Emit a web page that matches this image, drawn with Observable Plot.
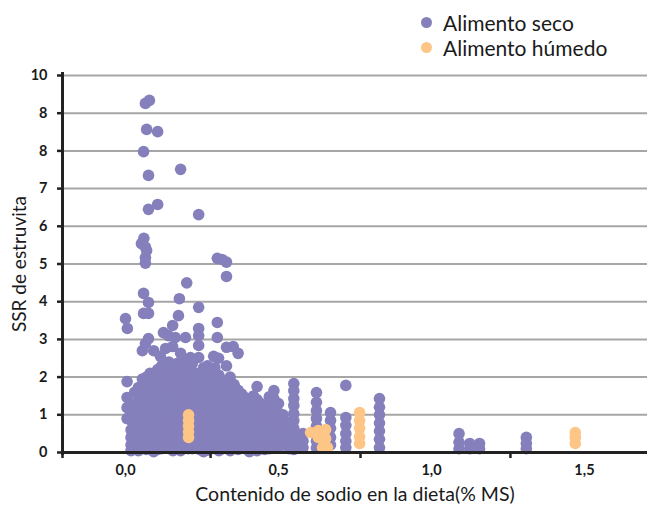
<!DOCTYPE html>
<html>
<head>
<meta charset="utf-8">
<script src="https://cdn.jsdelivr.net/npm/d3@7"></script>
<script src="https://cdn.jsdelivr.net/npm/@observablehq/plot@0.6"></script>
<style>
  html, body { margin: 0; padding: 0; background: #fff; }
  #wrap { position: relative; width: 647px; height: 505px; font-family: Lato, "Open Sans", sans-serif; }
  #legend { position: absolute; left: 421px; top: 10px; font-size: 21px; color: #1a1a1a; line-height: 25px; z-index: 2; }
  #legend .item { display: flex; align-items: center; }
  #legend .sw { width: 11px; height: 11px; border-radius: 50%; margin-right: 11px; flex: none; }
</style>
</head>
<body>
<div id="wrap">
  <div id="legend"></div>
</div>
<script>
// ---- data ----
const series = ["Alimento seco", "Alimento húmedo"];
const colors = ["#8580bb", "#fdc586"];

const yTicks = [0, 1, 2, 3, 4, 5, 6, 7, 8, 9, 10];
const yTickLabels = ["0", "1", "2", "3", "4", "5", "6", "7", "8", "8", "10"];
const xLabelTicks = [0, 0.5, 1.0, 1.5];
const xTickMarks = [-0.206, 0.278, 0.768, 1.258];

const xTitle = "Contenido de sodio en la dieta(% MS)";
const yTitle = "SSR de estruvita";

// Alimento seco: [sodio % MS, SSR]
const alimentoSeco = [
  [0.065, 9.26], [0.078, 9.34], [0.069, 8.57], [0.105, 8.51], [0.059, 7.98], [0.18, 7.51], [0.075, 7.35],
  [0.105, 6.58], [0.075, 6.45], [0.239, 6.31],
  [0.06, 5.68], [0.052, 5.54], [0.065, 5.45], [0.069, 5.36], [0.065, 5.17], [0.065, 5.02],
  [0.30, 5.15], [0.315, 5.12], [0.33, 5.05], [0.33, 4.67],
  [0.20, 4.5], [0.059, 4.22], [0.075, 3.98], [0.176, 4.08], [0.059, 3.69], [0.075, 3.69], [0.239, 3.85],
  [0.0, 3.55], [0.006, 3.29], [0.173, 3.63], [0.154, 3.37],
  [0.124, 3.18], [0.14, 3.10], [0.163, 3.05], [0.196, 3.05], [0.239, 3.29], [0.239, 3.1], [0.239, 2.84],
  [0.075, 3.02], [0.065, 2.89], [0.055, 2.7], [0.092, 2.7], [0.131, 2.76], [0.154, 2.81],
  [0.114, 2.55], [0.18, 2.63], [0.212, 2.52], [0.239, 2.52],
  [0.30, 3.45], [0.30, 3.05], [0.33, 2.79], [0.352, 2.81], [0.368, 2.63], [0.288, 2.55], [0.304, 2.5],
  [0.005, 1.88], [0.005, 1.46], [0.005, 1.19], [0.005, 0.9],
  [0.018, 1.3], [0.018, 1.1], [0.018, 0.85], [0.018, 0.6], [0.018, 0.4], [0.018, 0.2], [0.018, 0.05],
  [0.03, 1.6], [0.03, 1.25], [0.03, 1.0], [0.03, 0.75], [0.03, 0.5], [0.03, 0.3], [0.03, 0.1],
  [0.042, 1.72], [0.042, 1.51], [0.042, 1.3], [0.042, 1.1], [0.042, 0.9], [0.042, 0.65], [0.042, 0.45], [0.042, 0.25], [0.042, 0.05],
  [0.055, 1.95], [0.055, 1.7], [0.055, 1.5], [0.055, 1.25], [0.055, 1.05], [0.055, 0.8], [0.055, 0.6], [0.055, 0.4], [0.055, 0.15],
  [0.068, 2.0], [0.068, 1.8], [0.068, 1.6], [0.068, 1.4], [0.068, 1.15], [0.068, 0.95], [0.068, 0.7], [0.068, 0.5], [0.068, 0.3], [0.068, 0.08],
  [0.08, 2.1], [0.08, 1.85], [0.08, 1.65], [0.08, 1.45], [0.08, 1.2], [0.08, 1.0], [0.08, 0.78], [0.08, 0.55], [0.08, 0.35], [0.08, 0.12],
  [0.092, 1.95], [0.092, 1.7], [0.092, 1.5], [0.092, 1.3], [0.092, 1.05], [0.092, 0.85], [0.092, 0.62], [0.092, 0.4], [0.092, 0.2], [0.092, 0.02],
  [0.105, 2.2], [0.105, 2.0], [0.105, 1.75], [0.105, 1.55], [0.105, 1.35], [0.105, 1.12], [0.105, 0.9], [0.105, 0.7], [0.105, 0.48], [0.105, 0.25], [0.105, 0.08],
  [0.118, 2.3], [0.118, 2.05], [0.118, 1.82], [0.118, 1.6], [0.118, 1.4], [0.118, 1.18], [0.118, 0.95], [0.118, 0.75], [0.118, 0.52], [0.118, 0.3], [0.118, 0.1],
  [0.13, 2.35], [0.13, 2.1], [0.13, 1.9], [0.13, 1.65], [0.13, 1.45], [0.13, 1.22], [0.13, 1.0], [0.13, 0.8], [0.13, 0.58], [0.13, 0.35], [0.13, 0.12],
  [0.142, 2.4], [0.142, 2.15], [0.142, 1.92], [0.142, 1.7], [0.142, 1.5], [0.142, 1.28], [0.142, 1.05], [0.142, 0.82], [0.142, 0.6], [0.142, 0.38], [0.142, 0.15],
  [0.155, 2.3], [0.155, 2.08], [0.155, 1.85], [0.155, 1.62], [0.155, 1.4], [0.155, 1.18], [0.155, 0.95], [0.155, 0.72], [0.155, 0.5], [0.155, 0.28], [0.155, 0.05],
  [0.168, 2.36], [0.168, 2.12], [0.168, 1.9], [0.168, 1.66], [0.168, 1.44], [0.168, 1.2], [0.168, 0.98], [0.168, 0.76], [0.168, 0.55], [0.168, 0.32], [0.168, 0.1],
  [0.18, 2.3], [0.18, 2.05], [0.18, 1.82], [0.18, 1.6], [0.18, 1.38], [0.18, 1.15], [0.18, 0.92], [0.18, 0.7], [0.18, 0.48], [0.18, 0.25], [0.18, 0.05],
  [0.192, 2.44], [0.192, 2.2], [0.192, 1.98], [0.192, 1.75], [0.192, 1.52], [0.192, 1.3], [0.192, 1.08], [0.192, 0.85], [0.192, 0.62], [0.192, 0.4], [0.192, 0.18],
  [0.205, 2.3], [0.205, 2.08], [0.205, 1.85], [0.205, 1.62], [0.205, 1.4], [0.205, 1.2], [0.205, 0.3], [0.205, 0.1],
  [0.218, 2.36], [0.218, 2.15], [0.218, 1.9], [0.218, 1.68], [0.218, 1.45], [0.218, 1.22], [0.218, 1.0], [0.218, 0.78], [0.218, 0.55], [0.218, 0.32], [0.218, 0.1],
  [0.23, 2.0], [0.23, 1.78], [0.23, 1.55], [0.23, 1.32], [0.23, 1.1], [0.23, 0.88], [0.23, 0.65], [0.23, 0.42], [0.23, 0.2],
  [0.242, 2.1], [0.242, 1.88], [0.242, 1.66], [0.242, 1.44], [0.242, 1.2], [0.242, 0.98], [0.242, 0.75], [0.242, 0.52], [0.242, 0.3], [0.242, 0.08],
  [0.255, 2.25], [0.255, 2.02], [0.255, 1.8], [0.255, 1.58], [0.255, 1.35], [0.255, 1.12], [0.255, 0.9], [0.255, 0.68], [0.255, 0.45], [0.255, 0.22], [0.255, 0.02],
  [0.268, 2.3], [0.268, 2.08], [0.268, 1.85], [0.268, 1.62], [0.268, 1.4], [0.268, 1.18], [0.268, 0.95], [0.268, 0.72], [0.268, 0.5], [0.268, 0.28], [0.268, 0.06],
  [0.28, 2.12], [0.28, 1.9], [0.28, 1.68], [0.28, 1.45], [0.28, 1.22], [0.28, 1.0], [0.28, 0.78], [0.28, 0.55], [0.28, 0.32], [0.28, 0.1],
  [0.292, 2.25], [0.292, 2.0], [0.292, 1.78], [0.292, 1.55], [0.292, 1.32], [0.292, 1.1], [0.292, 0.88], [0.292, 0.65], [0.292, 0.42], [0.292, 0.2],
  [0.305, 2.05], [0.305, 1.82], [0.305, 1.6], [0.305, 1.38], [0.305, 1.15], [0.305, 0.92], [0.305, 0.7], [0.305, 0.48], [0.305, 0.25], [0.305, 0.05],
  [0.318, 1.9], [0.318, 1.68], [0.318, 1.45], [0.318, 1.22], [0.318, 1.0], [0.318, 0.78], [0.318, 0.55], [0.318, 0.32], [0.318, 0.1],
  [0.33, 2.3], [0.33, 1.75], [0.33, 1.52], [0.33, 1.3], [0.33, 1.08], [0.33, 0.85], [0.33, 0.62], [0.33, 0.4], [0.33, 0.18],
  [0.342, 2.0], [0.342, 1.6], [0.342, 1.38], [0.342, 1.15], [0.342, 0.92], [0.342, 0.7], [0.342, 0.48], [0.342, 0.25], [0.342, 0.05],
  [0.355, 1.8], [0.355, 1.5], [0.355, 1.28], [0.355, 1.05], [0.355, 0.82], [0.355, 0.6], [0.355, 0.38], [0.355, 0.15],
  [0.368, 1.65], [0.368, 1.42], [0.368, 1.2], [0.368, 0.98], [0.368, 0.75], [0.368, 0.52], [0.368, 0.3], [0.368, 0.08],
  [0.38, 1.55], [0.38, 1.3], [0.38, 1.08], [0.38, 0.85], [0.38, 0.62], [0.38, 0.4], [0.38, 0.18],
  [0.392, 1.45], [0.392, 1.22], [0.392, 1.0], [0.392, 0.78], [0.392, 0.55], [0.392, 0.32], [0.392, 0.1],
  [0.405, 1.35], [0.405, 1.12], [0.405, 0.9], [0.405, 0.68], [0.405, 0.45], [0.405, 0.22], [0.405, 0.02],
  [0.418, 1.5], [0.418, 1.25], [0.418, 1.02], [0.418, 0.8], [0.418, 0.58], [0.418, 0.35], [0.418, 0.12],
  [0.43, 1.75], [0.43, 1.4], [0.43, 1.15], [0.43, 0.92], [0.43, 0.7], [0.43, 0.48], [0.43, 0.25], [0.43, 0.05],
  [0.442, 1.3], [0.442, 1.05], [0.442, 0.82], [0.442, 0.6], [0.442, 0.38], [0.442, 0.15],
  [0.455, 1.2], [0.455, 0.95], [0.455, 0.72], [0.455, 0.5], [0.455, 0.28], [0.455, 0.08],
  [0.47, 1.48], [0.47, 1.25], [0.47, 1.02], [0.47, 0.8], [0.47, 0.55], [0.47, 0.3], [0.47, 0.1],
  [0.485, 1.64], [0.485, 1.42], [0.485, 1.1], [0.485, 0.85], [0.485, 0.6], [0.485, 0.35],
  [0.5, 1.3], [0.5, 1.05], [0.5, 0.8], [0.5, 0.55], [0.5, 0.3], [0.5, 0.12],
  [0.515, 1.0], [0.515, 0.75], [0.515, 0.5], [0.515, 0.25],
  [0.535, 0.8], [0.535, 0.55], [0.535, 0.3], [0.535, 0.1],
  [0.55, 1.83], [0.55, 1.64], [0.55, 1.43], [0.55, 1.25], [0.55, 1.03], [0.55, 0.85], [0.55, 0.64], [0.55, 0.42], [0.55, 0.24], [0.55, 0.08],
  [0.58, 0.5], [0.58, 0.3], [0.58, 0.13],
  [0.624, 1.59], [0.624, 1.33], [0.624, 1.11], [0.624, 0.9], [0.624, 0.7], [0.624, 0.5], [0.624, 0.3], [0.624, 0.12],
  [0.67, 1.06], [0.67, 0.85], [0.67, 0.64], [0.67, 0.4], [0.67, 0.2],
  [0.72, 1.78], [0.72, 0.93], [0.72, 0.72], [0.72, 0.5], [0.72, 0.3], [0.72, 0.13],
  [0.83, 1.43], [0.83, 1.2], [0.83, 1.0], [0.83, 0.78], [0.83, 0.57], [0.83, 0.35], [0.83, 0.13],
  [1.09, 0.5], [1.09, 0.27], [1.09, 0.1],
  [1.125, 0.24], [1.125, 0.1],
  [1.157, 0.24], [1.157, 0.1],
  [1.31, 0.4], [1.31, 0.24], [1.31, 0.1]
];

// Alimento húmedo
const alimentoHumedo = [
  [0.206, 1.0], [0.206, 0.85], [0.206, 0.7], [0.206, 0.55], [0.206, 0.4],
  [0.605, 0.53], [0.63, 0.58], [0.654, 0.61], [0.63, 0.4], [0.654, 0.37], [0.644, 0.13], [0.66, 0.13],
  [0.765, 1.06], [0.765, 0.85], [0.765, 0.64], [0.765, 0.42], [0.765, 0.24],
  [1.47, 0.53], [1.47, 0.4], [1.47, 0.24]
];

// ---- legend ----
const legend = document.getElementById("legend");
series.forEach((s, i) => {
  const item = document.createElement("div");
  item.className = "item";
  item.innerHTML = `<span class="sw" style="background:${colors[i]}"></span><span>${s}</span>`;
  legend.appendChild(item);
});

const fmtX = d => d.toFixed(1).replace(".", ",");

const chart = Plot.plot({
  width: 647,
  height: 505,
  marginLeft: 62,
  marginRight: 0,
  marginTop: 75,
  marginBottom: 53,
  style: { fontFamily: "Lato, 'Open Sans', sans-serif", color: "#1a1a1a", background: "transparent" },
  x: { domain: [-0.206, 1.706] },
  y: { domain: [0, 10] },
  marks: [
    Plot.gridY(yTicks.filter(d => d > 0), { stroke: "#a6a6a6", strokeOpacity: 1, strokeWidth: 2 }),
    Plot.dot(alimentoSeco, { x: d => d[0], y: d => d[1], r: 5.8, fill: colors[0] }),
    Plot.dot(alimentoHumedo, { x: d => d[0], y: d => d[1], r: 5.8, fill: colors[1] }),
    Plot.axisY(yTicks, {
      tickSize: 5, tickPadding: 10, strokeWidth: 2.5, stroke: "#222",
      tickFormat: d => yTickLabels[yTicks.indexOf(d)],
      fontSize: 14.5, fontWeight: "bold", label: null
    }),
    Plot.axisX(xTickMarks, { tickSize: 6, strokeWidth: 2.5, stroke: "#222", tickFormat: () => "", label: null }),
    Plot.axisX(xLabelTicks, { tickSize: 0, tickPadding: 12, tickFormat: fmtX, fontSize: 14.5, fontWeight: "bold", label: null }),
    Plot.ruleX([-0.206], { stroke: "#222", strokeWidth: 3, y1: -0.08, y2: 10.08 }),
    Plot.ruleY([0], { stroke: "#222", strokeWidth: 3 }),
    Plot.text([yTitle], { frameAnchor: "left", textAnchor: "middle", rotate: -90, dx: -43, fontSize: 19, fill: "#1a1a1a", lineAnchor: "middle" }),
    Plot.text([xTitle], { frameAnchor: "bottom", textAnchor: "middle", dy: 42, fontSize: 19.5, fill: "#1a1a1a", lineAnchor: "middle" })
  ]
});
document.getElementById("wrap").appendChild(chart);
chart.style.position = "absolute";
chart.style.left = "0";
chart.style.top = "0";
</script>
</body>
</html>
